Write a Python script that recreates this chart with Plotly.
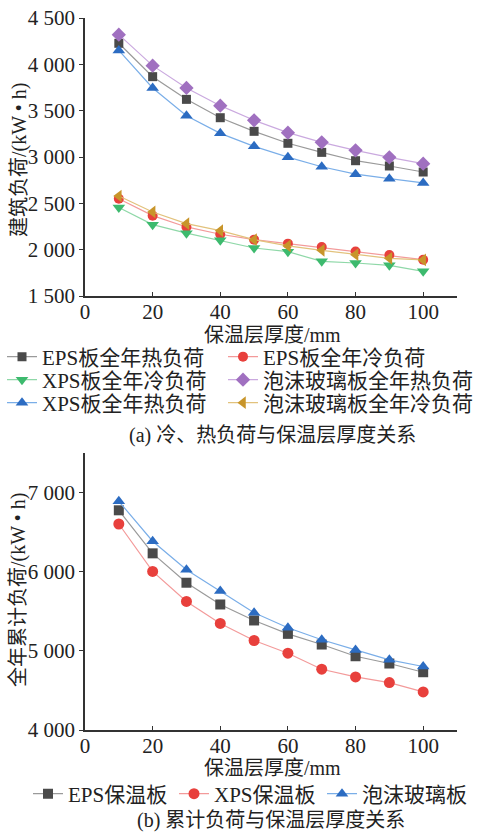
import plotly.graph_objects as go

# ---------------- data ----------------
thickness = [10, 20, 30, 40, 50, 60, 70, 80, 90, 100]

eps_heat = [4227, 3867, 3622, 3424, 3277, 3148, 3050, 2960, 2903, 2838]
eps_cool = [2550, 2367, 2245, 2166, 2108, 2065, 2029, 1979, 1943, 1892]
xps_cool = [2455, 2270, 2178, 2101, 2018, 1978, 1874, 1856, 1831, 1766]
foam_heat = [4320, 3986, 3745, 3554, 3396, 3263, 3158, 3072, 2996, 2928]
xps_heat = [4150, 3745, 3445, 3255, 3115, 2998, 2895, 2815, 2766, 2720]
foam_cool = [2579, 2407, 2281, 2205, 2108, 2040, 1993, 1946, 1907, 1889]

eps_total = [6776, 6232, 5861, 5586, 5384, 5215, 5080, 4932, 4840, 4730]
xps_total = [6603, 6004, 5624, 5346, 5131, 4970, 4768, 4671, 4599, 4481]
foam_total = [6890, 6385, 6025, 5755, 5482, 5292, 5140, 5012, 4887, 4802]

x_tickvals = [0, 20, 40, 60, 80, 100, 110]
x_ticktext = ["0", "20", "40", "60", "80", "100", ""]
y1_tickvals = [1500, 2000, 2500, 3000, 3500, 4000, 4500]
y1_ticktext = ["1 500", "2 000", "2 500", "3 000", "3 500", "4 000", "4 500"]
y2_tickvals = [4000, 5000, 6000, 7000]
y2_ticktext = ["4 000", "5 000", "6 000", "7 000"]

W, H = 479, 834
FONT = "Liberation Serif, Noto Sans CJK SC"
FS = 21


def px(x):
    return x / W


def py(y):
    return 1 - y / H


fig = go.Figure()

# (name, values, marker colour, line colour, symbol, marker size, subplot, legend x px, legend y px)
specs = [
    ("EPS板全年热负荷", eps_heat, "#4a4a4a", "#9a9a9a", "square", 9, 1, 2, 357),
    ("EPS板全年冷负荷", eps_cool, "#e8403c", "#f39a9a", "circle", 10, 1, 223, 357),
    ("XPS板全年冷负荷", xps_cool, "#3dba6e", "#8fd8a8", "triangle-down", 11, 1, 2, 380),
    ("泡沫玻璃板全年热负荷", foam_heat, "#a070c0", "#caa9df", "diamond", 11, 1, 223, 380),
    ("XPS板全年热负荷", xps_heat, "#2c6cc2", "#7aaee8", "triangle-up", 11, 1, 2, 403),
    ("泡沫玻璃板全年冷负荷", foam_cool, "#c8952a", "#e2c27c", "triangle-left", 11, 1, 223, 403),
    ("EPS保温板", eps_total, "#4a4a4a", "#9a9a9a", "square", 10, 2, 28, 794),
    ("XPS保温板", xps_total, "#e8403c", "#f39a9a", "circle", 11, 2, 174, 794),
    ("泡沫玻璃板", foam_total, "#2c6cc2", "#7aaee8", "triangle-up", 11, 2, 322, 794),
]

leg_layout = {}
for i, (name, vals, mc, lc, sym, ms, ax, lx, ly) in enumerate(specs):
    lid = "legend" if i == 0 else f"legend{i + 1}"
    fig.add_trace(go.Scatter(
        x=thickness, y=vals, name=name, mode="lines+markers",
        line=dict(color=lc, width=1.2),
        marker=dict(color=mc, symbol=sym, size=ms),
        xaxis="x" if ax == 1 else "x2", yaxis="y" if ax == 1 else "y2",
        legend=lid))
    leg_layout[lid] = dict(x=px(lx), y=py(ly), xanchor="left", yanchor="middle",
                           orientation="v", bgcolor="rgba(0,0,0,0)",
                           font=dict(family=FONT, size=FS, color="#222"),
                           itemclick=False, itemdoubleclick=False)

axis_common = dict(showline=True, linecolor="#333333", linewidth=1.5, showgrid=False,
                   zeroline=False, tickfont=dict(family=FONT, size=FS, color="#222"),
                   ticklen=4, tickwidth=1.2, tickcolor="#333333")

xdom = [px(85), px(457)]
fig.update_layout(
    width=W, height=H,
    margin=dict(l=0, r=0, t=0, b=0, autoexpand=False),
    paper_bgcolor="white", plot_bgcolor="white",
    font=dict(family=FONT, size=FS, color="#222"),
    xaxis=dict(domain=xdom, range=[0, 110], tickvals=x_tickvals, ticktext=x_ticktext,
               ticks="inside", anchor="y", ticklabelstandoff=-4, **axis_common),
    yaxis=dict(domain=[py(296), py(18)], range=[1500, 4500], tickvals=y1_tickvals,
               ticktext=y1_ticktext, ticks="outside", anchor="x", **axis_common),
    xaxis2=dict(domain=xdom, range=[0, 110], tickvals=x_tickvals, ticktext=x_ticktext,
                ticks="inside", anchor="y2", ticklabelstandoff=-4, **axis_common),
    yaxis2=dict(domain=[py(730), py(453)], range=[4000, 7500], tickvals=y2_tickvals,
                ticktext=y2_ticktext, ticks="outside", anchor="x2", **axis_common),
    showlegend=True,
    **leg_layout,
)

FT = 20
ann = [
    dict(text="建筑负荷/(kW • h)", x=px(19), y=py(160), textangle=-90),
    dict(text="保温层厚度/mm", x=px(272), y=py(335)),
    dict(text="(a) 冷、热负荷与保温层厚度关系", x=px(272), y=py(435)),
    dict(text="全年累计负荷/(kW • h)", x=px(18), y=py(590), textangle=-90),
    dict(text="保温层厚度/mm", x=px(272), y=py(768)),
    dict(text="(b) 累计负荷与保温层厚度关系", x=px(271), y=py(820)),
]
for a in ann:
    fig.add_annotation(xref="paper", yref="paper", showarrow=False,
                       xanchor="center", yanchor="middle",
                       font=dict(family=FONT, size=FT, color="#222"), **a)

fig.write_html("out.html")
